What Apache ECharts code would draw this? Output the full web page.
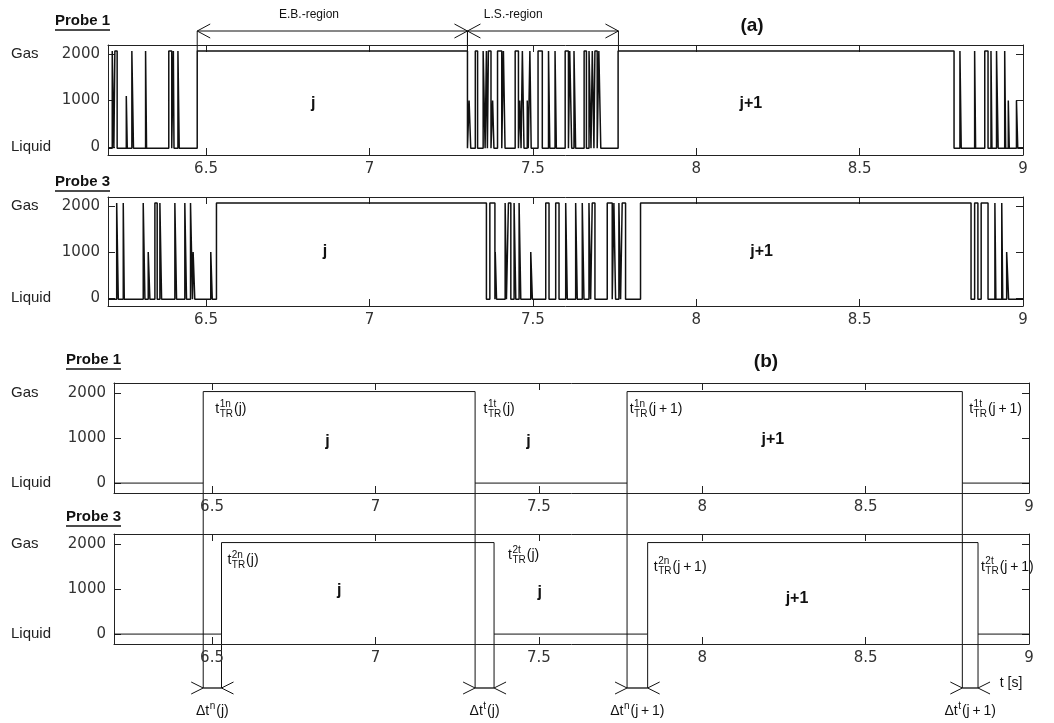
<!DOCTYPE html>
<html><head><meta charset="utf-8">
<script src="https://cdn.jsdelivr.net/npm/echarts@6/dist/echarts.min.js"></script>
<style>html,body{margin:0;padding:0;background:#fff}#c{width:1054px;height:723px}</style>
</head><body><div id="c"></div>
<script>
// ---------------- data ----------------
const xMin = 6.2, xMax = 9;
const xTicks = [6.5, 7, 7.5, 8, 8.5, 9];
const yTicks = [0, 1000, 2000];
const stateLabels = ['Liquid', 'Gas'];
const stateValues = [0, 2000];

// panel (a): measured probe signals, gas pulses [start, end] or [start, end, partial level]
const gasLevelA = 2070, liquidLevelA = -30;
const probe1A = [
  [6.213, 6.218], [6.221, 6.228], [6.256, 6.259, 1100], [6.273, 6.278], [6.315, 6.318],
  [6.386, 6.395], [6.400, 6.402], [6.414, 6.418],
  [6.473, 7.300],
  [7.305, 7.310, 1000], [7.324, 7.331], [7.348, 7.354], [7.358, 7.361], [7.364, 7.372],
  [7.377, 7.381, 1000], [7.392, 7.405], [7.410, 7.415], [7.446, 7.456], [7.460, 7.464, 1000],
  [7.468, 7.473], [7.483, 7.486, 1000], [7.491, 7.495], [7.516, 7.529], [7.548, 7.552],
  [7.568, 7.572], [7.599, 7.609], [7.613, 7.619], [7.626, 7.631], [7.657, 7.664],
  [7.672, 7.678], [7.682, 7.687], [7.690, 7.697], [7.702, 7.708],
  [7.761, 8.789],
  [8.807, 8.811], [8.852, 8.855], [8.883, 8.893], [8.902, 8.905], [8.919, 8.924],
  [8.944, 8.947], [8.955, 8.958, 1000], [8.980, 8.984, 1000]
];
const probe3A = [
  [6.2266, 6.2315], [6.2467, 6.2498], [6.3078, 6.3130], [6.3231, 6.3282, 1000],
  [6.3435, 6.3505], [6.3588, 6.3640], [6.4046, 6.4098], [6.4351, 6.4403],
  [6.4525, 6.4586], [6.4605, 6.4656, 1000], [6.5145, 6.5191, 1000],
  [6.5319, 7.358],
  [7.3685, 7.3840], [7.3850, 7.3890, 1000], [7.4153, 7.4193], [7.4254, 7.4327],
  [7.4427, 7.4479], [7.4580, 7.4632], [7.4937, 7.4986, 1000], [7.5395, 7.5496],
  [7.5700, 7.5802], [7.6006, 7.6055], [7.6311, 7.6360], [7.6513, 7.6565],
  [7.6718, 7.6770], [7.6818, 7.6901], [7.7277, 7.7430], [7.7481, 7.7533],
  [7.7634, 7.7686], [7.7735, 7.7838],
  [7.8296, 8.841],
  [8.852, 8.862], [8.872, 8.893], [8.914, 8.917], [8.935, 8.938], [8.950, 8.956, 1000]
];

// panel (b): idealised signals, gas intervals [rise, fall]
const gasLevelB = 2030, liquidLevelB = 0;
const probe1B = [[6.473, 7.305], [7.770, 8.796]];
const probe3B = [[6.529, 7.363], [7.833, 8.844]];

// annotation texts placed in data coordinates
const cycleLabels = [
  [0, 'j', 6.828, 930], [0, 'j+1', 8.167, 930],
  [1, 'j', 6.864, 1000], [1, 'j+1', 8.20, 1010],
  [2, 'j', 6.853, 926], [2, 'j', 7.468, 926], [2, 'j+1', 8.216, 963],
  [3, 'j', 6.889, 970], [3, 'j', 7.503, 930], [3, 'j+1', 8.29, 785]
];
const regions = [['E.B.-region', 6.473, 7.300, 6.815], ['L.S.-region', 7.300, 7.762, 7.44]];
const transLabels = [
  [2, '1n', '(j)', 6.51, 1630], [2, '1t', '(j)', 7.331, 1630],
  [2, '1n', '(j\u2009+\u20091)', 7.778, 1630], [2, '1t', '(j\u2009+\u20091)', 8.817, 1630],
  [3, '2n', '(j)', 6.547, 1647], [3, '2t', '(j)', 7.406, 1757],
  [3, '2n', '(j\u2009+\u20091)', 7.852, 1494], [3, '2t', '(j\u2009+\u20091)', 8.853, 1494]
];
const deltaLabels = [['n', '(j)', 0, 0], ['t', '(j)', 0, 1], ['n', '(j\u2009+\u20091)', 1, 0], ['t', '(j\u2009+\u20091)', 1, 1]];

// ---------------- chart ----------------
const NUM = '"DejaVu Sans", sans-serif';
const TXT = '"Liberation Sans", Arial, sans-serif';
const INK = '#111';

function buildSteps(pulses, low, high) {
  const pts = [[xMin, low]];
  pulses.forEach(p => {
    const h = p.length > 2 ? p[2] : high;
    pts.push([p[0], low], [p[0], h], [p[1], h], [p[1], low]);
  });
  pts.push([xMax, low]);
  return pts;
}

const grids = [
  {left: 108, right: 31, top: 45, height: 110},
  {left: 108, right: 31, top: 197, height: 109},
  {left: 114, right: 25, top: 383, height: 110},
  {left: 114, right: 25, top: 534, height: 110}
].map(g => Object.assign(g, {outerBoundsMode: 'none', containLabel: false}));
const yRanges = [[-175, 2200], [-175, 2200], [-220, 2220], [-220, 2220]];

const xAxis = [], yAxis = [];
grids.forEach((g, i) => {
  ['bottom', 'top'].forEach(pos => xAxis.push({
    type: 'value', gridIndex: i, position: pos, min: xMin, max: xMax,
    axisLine: {show: true, onZero: false, lineStyle: {color: '#222', width: 1}},
    axisTick: {show: true, inside: true, length: 7, customValues: xTicks, lineStyle: {color: '#222'}},
    axisLabel: {show: pos === 'bottom', customValues: xTicks, margin: 7, color: '#333', fontFamily: NUM, fontSize: 15,
      formatter: v => String(v)},
    splitLine: {show: false}
  }));
  const [mn, mx] = yRanges[i];
  yAxis.push({
    type: 'value', gridIndex: i, position: 'left', min: mn, max: mx,
    axisLine: {show: true, onZero: false, lineStyle: {color: '#222', width: 1}},
    axisTick: {show: true, inside: true, length: 7, customValues: yTicks, lineStyle: {color: '#222'}},
    axisLabel: {customValues: yTicks, margin: 8, color: '#333', fontFamily: NUM, fontSize: 15,
      formatter: v => String(v)},
    splitLine: {show: false}
  });
  yAxis.push({
    type: 'value', gridIndex: i, position: 'left', offset: g.left - 11, min: mn, max: mx,
    axisLine: {show: false}, axisTick: {show: false}, splitLine: {show: false},
    axisLabel: {customValues: stateValues, margin: 0, align: 'left', color: '#222', fontFamily: TXT, fontSize: 15,
      formatter: v => stateLabels[stateValues.indexOf(v)] || ''}
  });
  yAxis.push({
    type: 'value', gridIndex: i, position: 'right', min: mn, max: mx,
    axisLine: {show: true, onZero: false, lineStyle: {color: '#222', width: 1}},
    axisTick: {show: true, inside: true, length: 7, customValues: yTicks, lineStyle: {color: '#222'}},
    axisLabel: {show: false}, splitLine: {show: false}
  });
});

const signals = [
  buildSteps(probe1A, liquidLevelA, gasLevelA),
  buildSteps(probe3A, liquidLevelA, gasLevelA),
  buildSteps(probe1B, liquidLevelB, gasLevelB),
  buildSteps(probe3B, liquidLevelB, gasLevelB)
];
const series = signals.map((d, i) => ({
  type: 'line', xAxisIndex: 2 * i, yAxisIndex: 3 * i, data: d, symbol: 'none',
  lineStyle: {color: INK, width: i < 2 ? 1.5 : 1}, silent: true, animation: false
}));

const chart = echarts.init(document.getElementById('c'));
chart.setOption({animation: false, backgroundColor: '#fff', grid: grids, xAxis, yAxis, series});

// ---------------- annotations ----------------
const ctx = document.createElement('canvas').getContext('2d');
function tw(t, f) { ctx.font = f; return ctx.measureText(t).width; }
function P(g, x, y) { return chart.convertToPixel({seriesIndex: g}, [x, y]); }
function txt(x, y, text, font, align) {
  const a = align || 'left';
  return {type: 'text', x, y, silent: true,
    style: {text, font, fill: INK, align: a, textAlign: a, verticalAlign: 'middle', textVerticalAlign: 'middle'}};
}
function seg(x1, y1, x2, y2, w) {
  return {type: 'line', silent: true, shape: {x1, y1, x2, y2}, style: {stroke: INK, lineWidth: w || 1}};
}
const F14 = '14px ' + TXT, F10 = '10px ' + TXT, F12 = '12px ' + TXT;
const BOLD16 = 'bold 16px ' + TXT;
const els = [];

// probe titles
[['Probe 1', 55, 21], ['Probe 3', 55, 182], ['Probe 1', 66, 360], ['Probe 3', 66, 517]].forEach(([t, x, y]) => {
  const f = 'bold 15px ' + TXT;
  els.push(txt(x, y, t, f));
  els.push(seg(x, y + 9, x + tw(t, f), y + 9, 1.5));
});
// panel tags
els.push(txt(752, 26, '(a)', 'bold 19px ' + TXT, 'center'));
els.push(txt(766, 362, '(b)', 'bold 19px ' + TXT, 'center'));

// cycle labels
cycleLabels.forEach(([g, t, x, y]) => { const p = P(g, x, y); els.push(txt(p[0], p[1], t, BOLD16, 'center')); });

// E.B. / L.S. region arrows
const arrowY = 31;
regions.forEach(([t, a, b, cx]) => {
  const pa = P(0, a, gasLevelA), pb = P(0, b, gasLevelA);
  els.push(seg(pa[0], arrowY, pb[0], arrowY));
  els.push(seg(pa[0], arrowY, pa[0] + 13, arrowY - 7), seg(pa[0], arrowY, pa[0] + 13, arrowY + 7));
  els.push(seg(pb[0], arrowY, pb[0] - 13, arrowY - 7), seg(pb[0], arrowY, pb[0] - 13, arrowY + 7));
  els.push(seg(pa[0], arrowY, pa[0], pa[1]), seg(pb[0], arrowY, pb[0], pb[1]));
  els.push(txt(P(0, cx, 0)[0], 15, t, F12, 'center'));
});

// t_TR labels
function tLabel(x, y, sup, sub, arg) {
  const wb = tw('t', F14), ws = Math.max(tw(sup, F10), tw(sub, F10));
  els.push(txt(x, y, 't', F14));
  els.push(txt(x + wb + 0.5, y - 5, sup, F10));
  els.push(txt(x + wb + 0.5, y + 5, sub, F10));
  els.push(txt(x + wb + ws + 1.5, y, arg, F14));
}
transLabels.forEach(([g, sup, arg, x, y]) => { const p = P(g, x, y); tLabel(p[0], p[1], sup, 'TR', arg); });

// delta-t markers between probe 1 and probe 3 transitions
const dY = 688, dLabelY = 711;
deltaLabels.forEach(([sup, arg, k, edge]) => {
  const t1 = probe1B[k][edge], t3 = probe3B[k][edge];
  const a = P(2, t1, liquidLevelB), b = P(3, t3, liquidLevelB);
  els.push(seg(a[0], a[1], a[0], dY), seg(b[0], b[1], b[0], dY));
  els.push(seg(a[0], dY, b[0], dY, 1.3));
  els.push(seg(a[0], dY, a[0] - 12, dY - 6), seg(a[0], dY, a[0] - 12, dY + 6));
  els.push(seg(b[0], dY, b[0] + 12, dY - 6), seg(b[0], dY, b[0] + 12, dY + 6));
  const w1 = tw('\u0394t', F14), w2 = tw(sup, F10) + 1.5, w3 = tw(arg, F14);
  let x = (a[0] + b[0]) / 2 - (w1 + w2 + w3) / 2;
  els.push(txt(x, dLabelY, '\u0394t', F14));
  els.push(txt(x + w1 + 0.5, dLabelY - 5, sup, F10));
  els.push(txt(x + w1 + w2, dLabelY, arg, F14));
});

// time axis name
const ts = P(3, 8.945, 0);
els.push(txt(ts[0], 683, 't [s]', F14, 'center'));

chart.setOption({graphic: els});
</script>
</body></html>
